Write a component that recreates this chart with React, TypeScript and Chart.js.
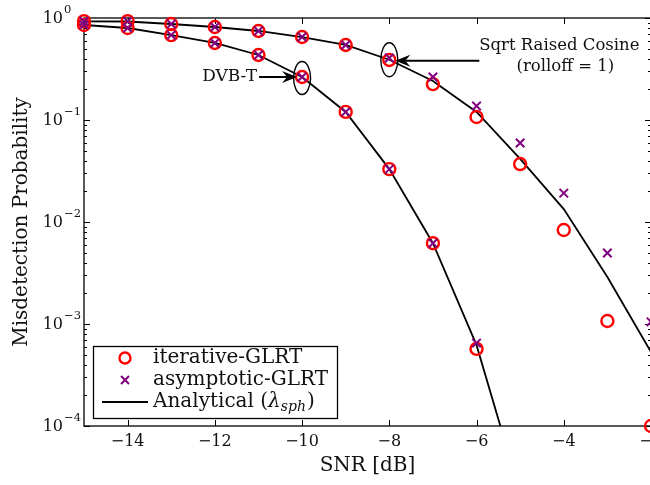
import React, { useEffect, useRef } from 'react';
import { Chart, registerables } from 'chart.js';

Chart.register(...registerables);

// ---- data ----
const snr = [-15, -14, -13, -12, -11, -10, -9, -8, -7, -6, -5, -4, -3, -2];

const dvbIterative = [0.854, 0.798, 0.68, 0.569, 0.434, 0.264, 0.12, 0.033, 0.0062, 5.7e-4, null, null, null, null];
const dvbAsymptotic = [0.854, 0.798, 0.68, 0.569, 0.434, 0.264, 0.12, 0.033, 0.0062, 6.5e-4, null, null, null, null];
const dvbAnalytical = [0.854, 0.798, 0.68, 0.569, 0.434, 0.264, 0.12, 0.033, 0.0062, 6.2e-4, 2.2e-5, null, null, null];

const srcIterative = [0.93, 0.93, 0.873, 0.816, 0.746, 0.651, 0.544, 0.388, 0.225, 0.107, 0.037, 0.00835, 0.00107, 1.0e-4];
const srcAsymptotic = [0.93, 0.93, 0.873, 0.816, 0.746, 0.651, 0.544, 0.405, 0.264, 0.137, 0.0595, 0.0192, 0.00497, 0.00105];
const srcAnalytical = [0.925, 0.924, 0.873, 0.816, 0.746, 0.651, 0.544, 0.39, 0.241, 0.12, 0.0415, 0.0134, 0.00289, 5.3e-4];

const xTickValues = [-14, -12, -10, -8, -6, -4, -2];
const yTickExponents = [0, -1, -2, -3, -4];
const legendLabels = ['iterative-GLRT', 'asymptotic-GLRT', 'Analytical ('];
const xTitle = 'SNR [dB]';
const yTitle = 'Misdetection Probability';
const dvbLabel = 'DVB-T';
const srcLabel1 = 'Sqrt Raised Cosine';
const srcLabel2 = '(rolloff = 1)';
const dvbMarkedX = -10;
const srcMarkedX = -8;

const RED = '#ff0000';
const PURPLE = '#800080';
const FONT = '"DejaVu Serif", serif';

function pts(ys: (number | null)[]) {
  return snr.map((x, i) => ({ x, y: ys[i] })).filter((p) => p.y !== null) as { x: number; y: number }[];
}

function minus(v: number) {
  return v < 0 ? '\u2212' + String(-v) : String(v);
}

const decorPlugin = {
  id: 'decor',
  beforeDatasetsDraw(chart: any) {
    const ctx = chart.ctx as CanvasRenderingContext2D;
    const { left, right, top, bottom } = chart.chartArea;
    const xs = chart.scales.x;
    const ys = chart.scales.y;
    ctx.save();
    ctx.strokeStyle = '#000';
    ctx.lineWidth = 1.3;
    ctx.strokeRect(left, top, right - left, bottom - top);
    ctx.lineWidth = 1;
    // x ticks
    ctx.beginPath();
    for (const v of xTickValues) {
      const px = Math.round(xs.getPixelForValue(v)) + 0.5;
      ctx.moveTo(px, bottom);
      ctx.lineTo(px, bottom - 6);
      ctx.moveTo(px, top);
      ctx.lineTo(px, top + 6);
    }
    // y ticks
    for (const e of yTickExponents) {
      const py = Math.round(ys.getPixelForValue(Math.pow(10, e))) + 0.5;
      ctx.moveTo(left, py);
      ctx.lineTo(left + 6, py);
      ctx.moveTo(right, py);
      ctx.lineTo(right - 6, py);
      if (e > -4) {
        for (let m = 2; m <= 9; m++) {
          const pm = Math.round(ys.getPixelForValue(m * Math.pow(10, e - 1))) + 0.5;
          ctx.moveTo(left, pm);
          ctx.lineTo(left + 3, pm);
          ctx.moveTo(right, pm);
          ctx.lineTo(right - 3, pm);
        }
      }
    }
    ctx.stroke();

    // tick labels
    ctx.fillStyle = '#111';
    ctx.textBaseline = 'middle';
    ctx.textAlign = 'center';
    ctx.font = `16px ${FONT}`;
    for (const v of xTickValues) {
      ctx.fillText(minus(v), xs.getPixelForValue(v), bottom + 16);
    }
    for (const e of yTickExponents) {
      const py = ys.getPixelForValue(Math.pow(10, e));
      ctx.textAlign = 'right';
      ctx.font = `16px ${FONT}`;
      ctx.fillText('10', 63, py + 1);
      ctx.textAlign = 'left';
      ctx.font = `11.5px ${FONT}`;
      ctx.fillText(minus(e), 64, py - 8);
    }

    // axis titles
    ctx.font = `20px ${FONT}`;
    ctx.textAlign = 'center';
    ctx.fillText(xTitle, (left + right) / 2, 466);
    ctx.save();
    ctx.translate(22, (top + bottom) / 2);
    ctx.rotate(-Math.PI / 2);
    ctx.fillText(yTitle, 0, 0);
    ctx.restore();
    ctx.restore();
  },
  afterDatasetsDraw(chart: any) {
    const ctx = chart.ctx as CanvasRenderingContext2D;
    const xs = chart.scales.x;
    const ys = chart.scales.y;
    ctx.save();
    ctx.strokeStyle = '#000';
    ctx.fillStyle = '#111';

    const arrowHead = (tipX: number, tipY: number, dir: number) => {
      ctx.fillStyle = '#000';
      ctx.beginPath();
      ctx.moveTo(tipX, tipY);
      ctx.lineTo(tipX - dir * 15, tipY - 6);
      ctx.lineTo(tipX - dir * 10, tipY);
      ctx.lineTo(tipX - dir * 15, tipY + 6);
      ctx.closePath();
      ctx.fill();
      ctx.fillStyle = '#111';
    };

    // DVB-T annotation
    const di = snr.indexOf(dvbMarkedX);
    const dx = xs.getPixelForValue(dvbMarkedX);
    const dy = ys.getPixelForValue(dvbAnalytical[di] as number);
    ctx.lineWidth = 1.4;
    ctx.beginPath();
    ctx.ellipse(dx, dy + 1, 8.5, 16.5, 0, 0, Math.PI * 2);
    ctx.stroke();
    ctx.lineWidth = 2;
    ctx.beginPath();
    ctx.moveTo(dx - 43, dy);
    ctx.lineTo(dx - 15, dy);
    ctx.stroke();
    arrowHead(dx - 5, dy, 1);
    ctx.font = `17px ${FONT}`;
    ctx.textAlign = 'right';
    ctx.textBaseline = 'middle';
    ctx.fillText(dvbLabel, dx - 45, dy);

    // SRC annotation
    const si = snr.indexOf(srcMarkedX);
    const sx = xs.getPixelForValue(srcMarkedX);
    const sy = ys.getPixelForValue(srcAnalytical[si] as number);
    ctx.lineWidth = 1.4;
    ctx.beginPath();
    ctx.ellipse(sx, sy, 8.5, 17, 0, 0, Math.PI * 2);
    ctx.stroke();
    ctx.lineWidth = 2;
    ctx.beginPath();
    ctx.moveTo(sx + 90, sy + 1);
    ctx.lineTo(sx + 16, sy + 1);
    ctx.stroke();
    arrowHead(sx + 6, sy + 1, -1);
    ctx.font = `16.5px ${FONT}`;
    ctx.textAlign = 'center';
    ctx.fillText(srcLabel1, sx + 170, sy - 14);
    ctx.fillText(srcLabel2, sx + 176, sy + 7);

    // legend
    const lx = 93, ly = 346, lw = 244, lh = 72;
    ctx.fillStyle = '#fff';
    ctx.fillRect(lx, ly, lw, lh);
    ctx.strokeStyle = '#000';
    ctx.lineWidth = 1.3;
    ctx.strokeRect(lx + 0.5, ly + 0.5, lw, lh);
    const rows = [358, 380, 402];
    const mx = 125;
    // circle
    ctx.strokeStyle = RED;
    ctx.lineWidth = 2.4;
    ctx.beginPath();
    ctx.arc(mx, rows[0], 5.5, 0, Math.PI * 2);
    ctx.stroke();
    // cross
    ctx.strokeStyle = PURPLE;
    ctx.lineWidth = 2;
    ctx.beginPath();
    ctx.moveTo(mx - 4, rows[1] - 4);
    ctx.lineTo(mx + 4, rows[1] + 4);
    ctx.moveTo(mx + 4, rows[1] - 4);
    ctx.lineTo(mx - 4, rows[1] + 4);
    ctx.stroke();
    // line
    ctx.strokeStyle = '#000';
    ctx.lineWidth = 1.8;
    ctx.beginPath();
    ctx.moveTo(102, rows[2]);
    ctx.lineTo(148, rows[2]);
    ctx.stroke();
    ctx.fillStyle = '#111';
    ctx.textAlign = 'left';
    ctx.textBaseline = 'middle';
    ctx.font = `20px ${FONT}`;
    ctx.fillText(legendLabels[0], 153, rows[0]);
    ctx.fillText(legendLabels[1], 153, rows[1]);
    let tx = 153;
    ctx.fillText(legendLabels[2], tx, rows[2]);
    tx += ctx.measureText(legendLabels[2]).width;
    ctx.font = `italic 20px ${FONT}`;
    ctx.fillText('\u03bb', tx, rows[2]);
    tx += ctx.measureText('\u03bb').width;
    ctx.font = `italic 14px ${FONT}`;
    ctx.fillText('sph', tx, rows[2] + 5);
    tx += ctx.measureText('sph').width + 1;
    ctx.font = `20px ${FONT}`;
    ctx.fillText(')', tx, rows[2]);
    ctx.restore();
  },
};

export default function App() {
  const ref = useRef<HTMLCanvasElement | null>(null);
  useEffect(() => {
    if (!ref.current) return;
    const lineDs = (data: any) => ({
      data,
      showLine: true,
      borderColor: '#000',
      borderWidth: 1.8,
      pointRadius: 0,
      pointHoverRadius: 0,
      order: 3,
    });
    const circleDs = (data: any) => ({
      data,
      showLine: false,
      pointStyle: 'circle',
      pointRadius: 6,
      pointBorderWidth: 2.4,
      borderColor: RED,
      pointBorderColor: RED,
      backgroundColor: 'rgba(0,0,0,0)',
      pointBackgroundColor: 'rgba(0,0,0,0)',
      clip: false,
      order: 2,
    });
    const crossDs = (data: any) => ({
      data,
      showLine: false,
      pointStyle: 'crossRot',
      pointRadius: 6,
      pointBorderWidth: 2,
      borderColor: PURPLE,
      pointBorderColor: PURPLE,
      clip: false,
      order: 1,
    });
    const chart = new Chart(ref.current, {
      type: 'scatter',
      data: {
        datasets: [
          lineDs(pts(srcAnalytical)),
          lineDs(pts(dvbAnalytical)),
          circleDs(pts(srcIterative)),
          circleDs(pts(dvbIterative)),
          crossDs(pts(srcAsymptotic)),
          crossDs(pts(dvbAsymptotic)),
        ] as any,
      },
      options: {
        animation: false,
        responsive: false,
        devicePixelRatio: 1,
        layout: { padding: { left: 84, top: 18, right: 49, bottom: 59 } },
        plugins: { legend: { display: false }, tooltip: { enabled: false } },
        events: [],
        scales: {
          x: { type: 'linear', min: -15, max: -2, display: false },
          y: { type: 'logarithmic', min: 1e-4, max: 1, display: false },
        },
      },
      plugins: [decorPlugin],
    });
    return () => chart.destroy();
  }, []);
  return (
    <div style={{ position: 'fixed', left: 0, top: 0, width: 650, height: 485, overflow: 'hidden', background: '#fff' }}>
      <canvas ref={ref} width={700} height={485} style={{ display: 'block', width: 700, height: 485 }} />
    </div>
  );
}
